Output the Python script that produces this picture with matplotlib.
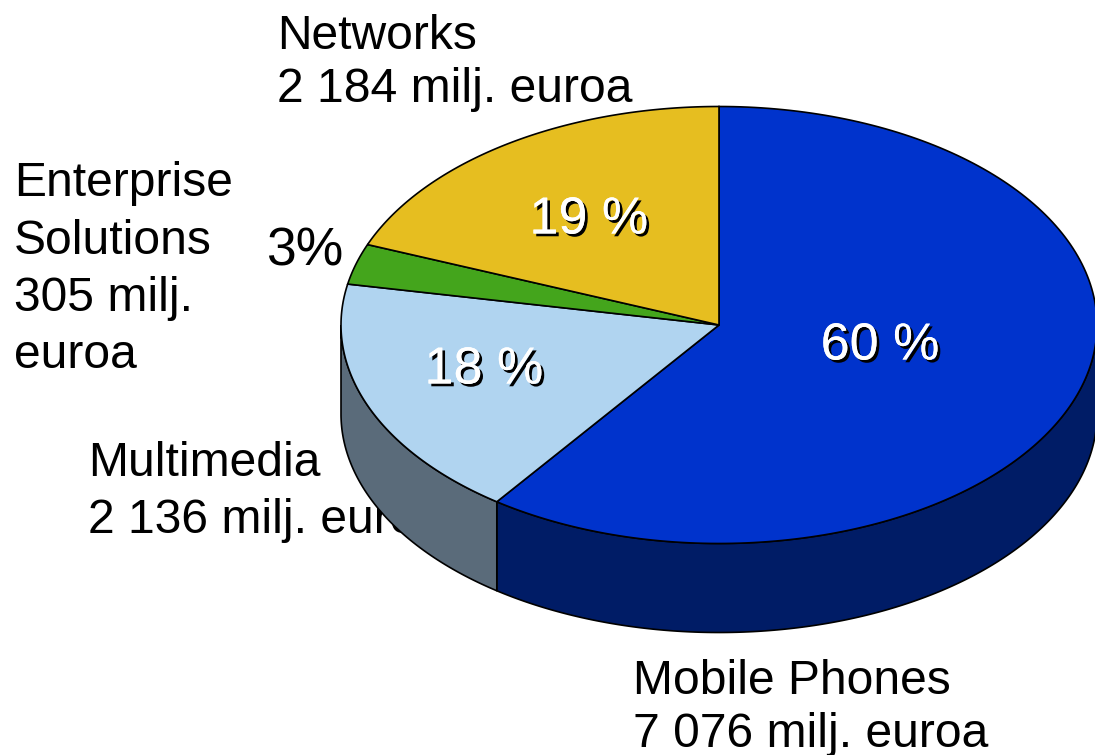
# 3D-look pie chart of sales by business group
import numpy as np
import matplotlib
matplotlib.use("Agg")
import matplotlib.pyplot as plt
import matplotlib.patheffects as pe

plt.rcParams['font.family'] = ['Liberation Sans', 'DejaVu Sans']

# Data
groups = ["Mobile Phones", "Multimedia", "Enterprise Solutions", "Networks"]
shares = [60, 18, 3, 19]
percents = ["60 %", "18 %", "3%", "19 %"]
top_colors = ["#0033CC", "#B0D4F0", "#44A51C", "#E6BE20"]
side_colors = ["#001C66", "#5A6B7A"]

labels = ["Networks\n2 184 milj. euroa",
          "Enterprise\nSolutions\n305 milj.\neuroa",
          "Multimedia\n2 136 milj. euroa",
          "Mobile Phones\n7 076 milj. euroa"]

W, H = 1095, 755
cx, cy = 719, 325
rx, ry = 378, 218.5
depth = 89


def ellipse(a0, a1, yshift=0):
    # angles clockwise from twelve o'clock, in degrees
    t = np.radians(np.linspace(a0, a1, 200))
    return cx + rx * np.sin(t), cy - ry * np.cos(t) + yshift


fig = plt.figure(figsize=(W / 100, H / 100), dpi=100)
ax = fig.add_axes([0, 0, 1, 1])
ax.set_xlim(0, W)
ax.set_ylim(H, 0)
ax.axis('off')

# Outside labels go under the pie, the wall hides the end of Multimedia
txt = dict(fontsize=34.6, color='black', ha='left', va='baseline', zorder=1)
ax.text(277, 102, labels[0], linespacing=1.22, **txt)
ax.text(14, 368, labels[1], linespacing=1.35, **txt)
ax.text(88, 533, labels[2], linespacing=1.35, **txt)
ax.text(633, 747, labels[3], linespacing=1.22, **txt)
ax.text(266, 265, percents[2], color='black', fontsize=38.5, ha='left', va='baseline', zorder=1)

edges = np.concatenate([[0], np.cumsum(shares) / np.sum(shares) * 360])

# Walls, only the front half of the rim shows
walls = [(90, edges[1]), (edges[1], 270)]
for (a0, a1), col in zip(walls, side_colors):
    x0, y0 = ellipse(a0, a1)
    x1, y1 = ellipse(a1, a0, depth)
    ax.fill(np.r_[x0, x1], np.r_[y0, y1], facecolor=col, edgecolor='black', lw=1.2, zorder=2)

# Top face
for i, col in enumerate(top_colors):
    x, y = ellipse(edges[i], edges[i + 1])
    ax.fill(np.r_[cx, x], np.r_[cy, y], facecolor=col, edgecolor='black', lw=1.2, zorder=3)

# Percent labels, white with a small black shadow
shadow = [pe.withSimplePatchShadow(offset=(2, -2), shadow_rgbFace='black', alpha=1), pe.Normal()]
inside = dict(fontsize=37.5, color='white', ha='center', va='center', zorder=4, path_effects=shadow)
ax.text(880, 346, percents[0], **inside)
ax.text(484, 370, percents[1], **inside)
ax.text(589, 220, percents[3], **inside)

plt.savefig('out.png', dpi=100)
